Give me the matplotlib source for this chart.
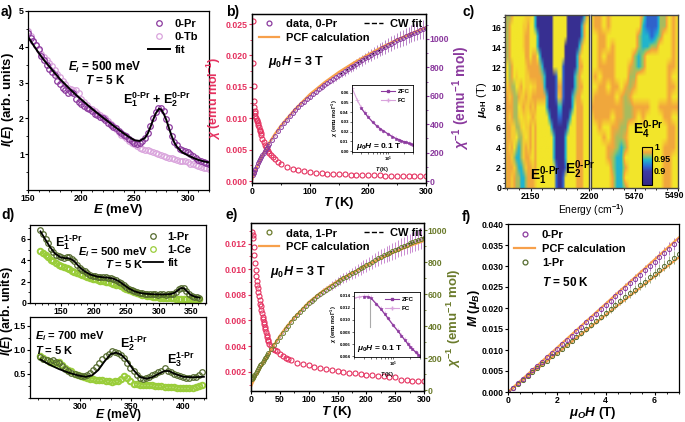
import numpy as np
import matplotlib
matplotlib.use("Agg")
import matplotlib.pyplot as plt
from matplotlib.colors import LinearSegmentedColormap, Normalize
from matplotlib.cm import ScalarMappable
from matplotlib.lines import Line2D
from matplotlib.ticker import MultipleLocator, FormatStrFormatter, NullFormatter

plt.rcParams.update({
    'font.family': 'Liberation Sans',
    'font.weight': 'bold',
    'axes.labelweight': 'bold',
    'font.size': 6.3,
    'mathtext.fontset': 'custom',
    'mathtext.rm': 'Liberation Sans:bold',
    'mathtext.it': 'Liberation Sans:italic:bold',
    'mathtext.bf': 'Liberation Sans:bold',
    'mathtext.sf': 'Liberation Sans:bold',
    'axes.linewidth': 0.9,
})

PUR = '#8b3a9e'
PUR_L = '#b782c6'
PINK = '#d9a3dc'
RED = '#e5315f'
ORANGE = '#f7a04b'
DGREEN = '#556b2f'
LIME = '#9acd3a'
EGREEN = '#6b7b2c'
TICK = 6.3

# ---------------- data: panel a ----------------
a_energy = [150, 152.5, 155, 157.5, 160, 162.5, 165, 167.5, 170, 172.5, 175, 177.5, 180, 182.5,
            185, 187.5, 190, 192.5, 195, 197.5, 200, 202.5, 205, 207.5, 210, 212.5, 215, 217.5,
            220, 222.5, 225, 227.5, 230, 232.5, 235, 237.5, 240, 242.5, 245, 247.5, 250, 252.5,
            255, 257.5, 260, 262.5, 265, 267.5, 270, 272.5, 275, 277.5, 280, 282.5, 285, 287.5,
            290, 292.5, 295, 297.5, 300, 302.5, 305, 307.5, 310, 312.5, 315, 317.5, 320]
a_pr = [4.38, 4.25, 4.15, 4.05, 3.95, 3.75, 3.62, 3.50, 3.38, 3.30,
        3.20, 3.05, 2.95, 2.85, 2.80, 2.72, 2.75, 2.70, 2.55, 2.45,
        2.40, 2.35, 2.30, 2.25, 2.20, 2.12, 2.10, 2.05, 2.00, 1.95,
        1.88, 1.82, 1.75, 1.72, 1.65, 1.60, 1.55, 1.50, 1.42, 1.38,
        1.30, 1.28, 1.30, 1.38, 1.45, 1.60, 1.78, 2.00, 2.18, 2.28,
        2.30, 2.20, 1.98, 1.75, 1.50, 1.35, 1.25, 1.15, 1.12, 1.08,
        1.05, 1.00, 0.95, 0.88, 0.85, 0.80, 0.78, 0.75, 0.72]
a_tb = [4.45, 4.30, 4.15, 4.05, 3.92, 3.80, 3.72, 3.62, 3.55, 3.45,
        3.35, 3.25, 3.15, 3.05, 2.95, 2.85, 2.82, 2.80, 2.78, 2.70,
        2.55, 2.45, 2.38, 2.30, 2.25, 2.20, 2.15, 2.10, 2.05, 2.00,
        1.92, 1.85, 1.78, 1.70, 1.62, 1.55, 1.50, 1.45, 1.38, 1.32,
        1.28, 1.22, 1.18, 1.15, 1.12, 1.12, 1.10, 1.05, 1.02, 1.00,
        0.98, 0.95, 0.93, 0.90, 0.88, 0.86, 0.85, 0.82, 0.80, 0.80,
        0.78, 0.74, 0.72, 0.70, 0.66, 0.64, 0.62, 0.61, 0.60]
a_fit_energy = [150, 155, 160, 165, 170, 175, 180, 185, 190, 195, 200, 205, 210, 215, 220, 225,
                230, 235, 240, 245, 250, 255, 260, 262.5, 265, 267.5, 270, 273, 275, 277.5, 280,
                282.5, 285, 287.5, 290, 295, 300, 305, 310, 315, 320]
a_fit = [4.28, 4.05, 3.83, 3.63, 3.45, 3.27, 3.10, 2.95, 2.80, 2.66, 2.53, 2.40, 2.27, 2.15, 2.03,
         1.92, 1.80, 1.69, 1.58, 1.48, 1.39, 1.37, 1.46, 1.58, 1.76, 1.96, 2.14, 2.27, 2.25, 2.13,
         1.95, 1.72, 1.50, 1.32, 1.20, 1.05, 0.97, 0.90, 0.84, 0.80, 0.77]

# ---------------- data: panel b ----------------
b_chi_T = [2, 2.5, 3, 3.5, 4, 4.5, 5, 6, 7, 8, 9, 10, 11, 12, 13, 14, 15, 16, 18, 20, 22, 24, 26,
           28, 30, 33, 36, 40, 45, 50, 60, 70, 80, 90, 100, 110, 120, 130, 140, 150, 160, 170,
           180, 190, 200, 210, 220, 230, 240, 250, 260, 270, 280, 290, 300]
b_chi = [0.0255, 0.0188, 0.0151, 0.0128, 0.0118, 0.0112, 0.0108, 0.0103, 0.0100, 0.0097, 0.0095,
         0.0092, 0.0089, 0.0086, 0.0082, 0.0079, 0.0076, 0.0073, 0.0067, 0.0062, 0.0058, 0.0054,
         0.0051, 0.0048, 0.0045, 0.0041, 0.0038, 0.0035, 0.0031, 0.0028, 0.0023, 0.0020, 0.0018,
         0.0016, 0.00148, 0.00137, 0.00128, 0.00121, 0.00115, 0.0011, 0.00106, 0.00102, 0.00099,
         0.00096, 0.00094, 0.00092, 0.0009, 0.00088, 0.00086, 0.00085, 0.00083, 0.00082, 0.00081,
         0.0008, 0.00079]
inv_T = [2, 3, 4, 5, 6, 8, 10, 12, 14, 16, 18, 20, 22, 24, 26, 28, 30, 35, 40, 45, 50, 55, 60, 65,
         70, 75, 80, 85, 90, 95, 100, 105, 110, 115, 120, 125, 130, 135, 140, 145, 150, 155, 160,
         165, 170, 175, 180, 185, 190, 195, 200, 205, 210, 215, 220, 225, 230, 235, 240, 245, 250,
         255, 260, 265, 270, 275, 280, 285, 290, 295, 300]
b_inv = [42, 55, 66, 78, 88, 106, 124, 140, 155, 170, 183, 196, 210, 222, 235, 248, 262,
         292, 320, 352, 383, 408, 432, 455, 478, 500, 519, 539, 558, 576, 594,
         611, 628, 645, 661, 676, 691, 705, 719, 733, 746, 760, 773, 786, 799, 812, 825, 838,
         850, 862, 875, 887, 899, 911, 922, 934, 945, 956, 967, 978, 990, 999, 1008, 1017, 1026,
         1035, 1043, 1051, 1059, 1067, 1075]
inv_err = [3, 3, 3, 3, 3, 3, 3, 3, 3, 3, 3, 3, 3, 3, 3, 3, 3,
           4, 4, 5, 5, 6, 7, 8, 9, 10, 11, 12, 13, 14, 15, 16, 18, 19, 20, 22, 23, 24, 26, 27,
           28, 30, 31, 32, 33, 35, 36, 37, 38, 40, 41, 42, 43, 45, 46, 47, 48, 50, 51, 52, 53,
           55, 56, 57, 58, 60, 61, 62, 63, 65, 66]
pcf_T = [1, 5, 10, 20, 30, 40, 50, 60, 75, 100, 125, 150, 175, 200, 225, 250, 275, 300]
b_pcf = [15, 60, 110, 200, 272, 335, 392, 440, 510, 612, 695, 768, 832, 890, 945, 995, 1040, 1082]
b_cw_T = [150, 200, 250, 300]
b_cw = [745, 873, 988, 1074]
ins_T = [2, 2.5, 3, 3.5, 4, 5, 6, 7, 8, 10, 12, 14, 16, 18, 20, 22, 25, 28, 30]
ins_zfc_T = [3, 3.5, 4, 5, 6, 7, 8, 10, 12, 14, 16, 18, 20, 22, 25, 28, 30]
b_ins_fc = [0.065, 0.053, 0.045, 0.040, 0.036, 0.030, 0.026, 0.023, 0.021, 0.0175, 0.015, 0.013,
            0.0118, 0.0107, 0.0098, 0.009, 0.008, 0.0072, 0.0068]
b_ins_zfc = [0.044, 0.0395, 0.0355, 0.0298, 0.0258, 0.0229, 0.0209, 0.0174, 0.0149, 0.0129,
             0.0117, 0.0106, 0.0097, 0.0089, 0.0079, 0.0071, 0.0067]

c_levels = {'.': 1.0, 'y': 0.99, 'o': 0.977, 'g': 0.966, 'c': 0.945, 'b': 0.915, 'D': 0.86}
c_left_energy = (2128, 2200)   # 37 columns, 2 cm-1 apart
c_right_energy = (5450, 5490)  # 21 columns, 2 cm-1 apart
c_left_rows = [  # field 17 T (top) down to 0 T
    "oggo.....yyy.cDDDDDDD......DDDDDDDco.",
    "ogo.....yyo..cDDDDDDD......DDDDDDco..",
    ".go.....yoo...cDDDDDD......DDDDDDco..",
    "ogo.....yoo...cDDDDDD.....DDDDDDco...",
    "ogo......oo.oo.cDDDDD.....DDDDDco....",
    "o.go.....yooooogcDDDD....bDDDDDcoo...",
    "o.go.y...yyooooogcDDDDb..bDDDDcgo....",
    "oyogg.yo.yy.yyooocDDDDboobDDDDcgoo...",
    "ooyoggoyyoyyoooooocDDDbyobDDDcgoo....",
    "oooogg.yoyyoyo....cDDDDccDDDDc.ooo...",
    ".oyoggy.yy.yoy.....cDDDbbDDDc..ooo...",
    ".ooyyggy.yyo.o......cDDDDDDc...ooo...",
    ".ooyy.ggy.yo.o.......cDDDDc....ooo...",
    ".oyo.gcgyoyo.o.......cDDDDc....ooo...",
    ".ooygccgyooy.o.......cDDDDc....ooo...",
    ".oooygccgyooyo........bDDDb....ooo...",
    ".ooyoggccgoooy........bDDb.....ooo...",
    ".ooyoggccgoooy........bDDb.....ooo...",
]
c_right_rows = [
    ".oo.o.......gbbbgg.o.",
    ".oo.o.......cbbbgg.o.",
    "..oo.......gccbcg..o.",
    "..oo.o.....gccgg...o.",
    "..o.oo....gcg......o.",
    "..oooo...ogcg.....oo.",
    ".o.ooo...gg.......o..",
    "..oo.oo.ogo.......oo.",
    ".ooooo.ogo........o..",
    "ooooooooggoooo..ooooo",
    ".oooo.ooggo.o....oo..",
    "..o..oogg.........oo.",
    "...o.oggo.........oo.",
    "....oogcg........ooo.",
    "....ogcc.........oo..",
    ".....gcco........oo..",
    ".....occ.........oo..",
    ".....occg........oo..",
]

# ---------------- data: panel d ----------------
d1_energy = [118, 122, 126, 130, 134, 138, 142, 146, 150, 154, 158, 162, 166, 170, 174, 178, 182,
             186, 190, 194, 198, 202, 206, 210, 214, 218, 222, 226, 230, 234, 238, 242, 246, 250,
             254, 258, 262, 266, 270, 274, 278, 282, 286, 290, 294, 298, 302, 306, 310, 314, 318,
             322, 326, 330, 334, 338, 342, 346, 350, 354, 358, 362]
d1_pr = [6.8, 6.5, 6.0, 5.6, 5.1, 4.8, 4.5, 4.4, 4.3, 4.25, 4.35, 4.3, 4.15, 3.9, 3.6, 3.3, 3.1,
         2.95, 2.8, 2.65, 2.55, 2.5, 2.45, 2.42, 2.4, 2.42, 2.38, 2.32, 2.25, 2.15, 2.0, 1.85, 1.65,
         1.5, 1.35, 1.2, 1.1, 1.02, 0.95, 0.9, 0.87, 0.85, 0.82, 0.8, 0.8, 0.78, 0.8, 0.8, 0.78,
         0.8, 0.82, 0.88, 1.05, 1.3, 1.45, 1.4, 1.15, 0.85, 0.65, 0.58, 0.52, 0.5]
d1_ce = [4.9, 4.7, 4.5, 4.3, 4.05, 3.9, 3.7, 3.6, 3.5, 3.38, 3.25, 3.15, 3.0, 2.9, 2.8, 2.7, 2.6,
         2.5, 2.4, 2.35, 2.25, 2.2, 2.15, 2.1, 2.05, 2.0, 1.95, 1.85, 1.8, 1.72, 1.65, 1.55, 1.45,
         1.35, 1.25, 1.12, 1.0, 0.92, 0.85, 0.78, 0.72, 0.68, 0.62, 0.6, 0.56, 0.52, 0.5, 0.48,
         0.46, 0.45, 0.44, 0.43, 0.42, 0.42, 0.41, 0.4, 0.4, 0.39, 0.38, 0.37, 0.36, 0.35]
d1_fit_energy = [118, 125, 132, 140, 148, 155, 160, 165, 170, 178, 186, 195, 205, 215, 222, 230,
                 238, 246, 254, 262, 270, 280, 290, 300, 310, 318, 324, 330, 334, 338, 342, 348,
                 355, 362]
d1_fit = [6.7, 6.0, 5.3, 4.65, 4.3, 4.2, 4.2, 4.1, 3.9, 3.35, 2.95, 2.65, 2.47, 2.4, 2.37, 2.27,
          2.05, 1.7, 1.35, 1.1, 0.95, 0.86, 0.82, 0.8, 0.8, 0.84, 0.96, 1.25, 1.4, 1.38, 1.15,
          0.78, 0.58, 0.5]
d2_energy = [262, 265, 268, 271, 274, 277, 280, 283, 286, 289, 292, 295, 298, 301, 304, 307, 310,
             313, 316, 319, 322, 325, 328, 331, 334, 337, 340, 343, 346, 349, 352, 355, 358, 361,
             364, 367, 370, 373, 376, 379, 382, 385, 388, 391, 394, 397, 400, 403, 406, 409, 412,
             415, 418]
d2_pr = [0.85, 0.8, 0.78, 0.76, 0.78, 0.74, 0.72, 0.66, 0.6, 0.57, 0.52, 0.5, 0.47, 0.45, 0.46,
         0.48, 0.52, 0.58, 0.64, 0.72, 0.8, 0.87, 0.92, 0.97, 0.95, 0.93, 0.9, 0.82, 0.73, 0.63,
         0.55, 0.47, 0.42, 0.4, 0.41, 0.44, 0.47, 0.5, 0.53, 0.56, 0.62, 0.56, 0.53, 0.5, 0.47,
         0.45, 0.43, 0.42, 0.41, 0.43, 0.44, 0.48, 0.53]
d2_ce = [0.88, 0.82, 0.78, 0.75, 0.72, 0.7, 0.75, 0.68, 0.62, 0.58, 0.55, 0.5, 0.48, 0.45, 0.43,
         0.42, 0.4, 0.4, 0.38, 0.37, 0.37, 0.36, 0.35, 0.34, 0.35, 0.36, 0.4, 0.45, 0.42, 0.35,
         0.3, 0.29, 0.28, 0.28, 0.27, 0.26, 0.26, 0.25, 0.25, 0.24, 0.23, 0.23, 0.22, 0.22, 0.21,
         0.21, 0.2, 0.21, 0.2, 0.2, 0.22, 0.25, 0.28]
d2_fit_energy = [262, 270, 280, 290, 300, 306, 312, 318, 324, 330, 335, 340, 346, 352, 358, 364,
                 370, 376, 382, 386, 392, 400, 410, 420]
d2_fit = [0.8, 0.7, 0.6, 0.52, 0.46, 0.44, 0.47, 0.58, 0.76, 0.91, 0.94, 0.9, 0.77, 0.58, 0.44,
          0.4, 0.43, 0.5, 0.56, 0.56, 0.5, 0.44, 0.43, 0.44]

# ---------------- data: panel e ----------------
e_chi_T = [2, 3, 4, 5, 6, 7, 8, 9, 10, 11, 12, 13, 14, 15, 16, 17, 18, 19, 20, 21, 22, 23, 24, 25,
           26, 27, 28, 29, 30, 32, 35, 38, 41, 45, 50, 55, 60, 65, 70, 80, 90, 100, 110, 120, 130,
           140, 150, 160, 170, 180, 190, 200, 210, 220, 230, 240, 250, 260, 270, 280, 290, 300]
e_chi = [0.0129, 0.0127, 0.0124, 0.0117, 0.0111, 0.0105, 0.0099, 0.0095, 0.0091, 0.0088, 0.0085,
         0.0082, 0.0079, 0.0076, 0.0073, 0.0071, 0.0068, 0.0066, 0.0063, 0.0061, 0.0059, 0.0057,
         0.0055, 0.0053, 0.0051, 0.0049, 0.0047, 0.0045, 0.0044, 0.0042, 0.0040, 0.0038, 0.0037,
         0.0036, 0.0034, 0.0032, 0.0031, 0.0030, 0.0029, 0.0027, 0.0026, 0.0025, 0.0024, 0.0023,
         0.0022, 0.00212, 0.00205, 0.00198, 0.00192, 0.00187, 0.00182, 0.00177, 0.00172, 0.00168,
         0.00164, 0.0016, 0.00156, 0.00136, 0.00133, 0.0013, 0.00128, 0.00126]
e_inv = [73, 78, 84, 90, 96, 108, 120, 132, 144, 155, 166, 177, 188, 199, 210, 221, 232,
         258, 284, 309, 333, 357, 380, 403, 426, 448, 468, 488, 507, 525, 542,
         557, 572, 587, 601, 615, 628, 641, 653, 665, 677, 688, 698, 709, 719, 729, 739, 750,
         760, 771, 781, 791, 802, 812, 823, 833, 842, 850, 858, 867, 875, 884, 892, 900, 909,
         917, 924, 931, 938, 945, 952]
e_pcf = [30, 62, 98, 162, 225, 285, 340, 390, 455, 550, 622, 682, 732, 779, 823, 864, 900, 932]
e_cw = [677, 781, 875, 952]
e_ins_fc = [0.0136, 0.0138, 0.0139, 0.0139, 0.0137, 0.0127, 0.0119, 0.0111, 0.0104, 0.0092,
            0.0083, 0.0075, 0.0068, 0.0062, 0.0057, 0.0053, 0.0048, 0.0044, 0.0041]
e_ins_zfc = [0.0138, 0.0138, 0.0136, 0.0126, 0.0118, 0.0110, 0.0103, 0.0091, 0.0082, 0.0074,
             0.0067, 0.0061, 0.0056, 0.0052, 0.0047, 0.0043, 0.0040]
e_mark_T = [3.9, 3.9]
e_mark_chi = [0.0133, 0.0088]

# ---------------- data: panel f ----------------
f_field = [0, 0.2, 0.4, 0.6, 0.8, 1.0, 1.2, 1.4, 1.6, 1.8, 2.0, 2.2, 2.4, 2.6, 2.8, 3.0, 3.2, 3.4,
           3.6, 3.8, 4.0, 4.2, 4.4, 4.6, 4.8, 5.0, 5.2, 5.4, 5.6, 5.8, 6.0, 6.2, 6.4, 6.6, 6.8, 7.0]
f_0pr = [0, 0.0010, 0.0021, 0.0031, 0.0041, 0.0052, 0.0062, 0.0072, 0.0083, 0.0093, 0.0103,
         0.0114, 0.0124, 0.0134, 0.0145, 0.0155, 0.0166, 0.0176, 0.0186, 0.0197, 0.0207, 0.0217,
         0.0228, 0.0238, 0.0248, 0.0259, 0.0269, 0.0279, 0.0290, 0.0300, 0.0310, 0.0321, 0.0331,
         0.0341, 0.0352, 0.0362]
f_1pr = [0, 0.0009, 0.0019, 0.0028, 0.0038, 0.0047, 0.0056, 0.0066, 0.0075, 0.0085, 0.0094,
         0.0103, 0.0113, 0.0122, 0.0132, 0.0141, 0.0150, 0.0160, 0.0169, 0.0179, 0.0188, 0.0197,
         0.0207, 0.0216, 0.0226, 0.0235, 0.0244, 0.0254, 0.0263, 0.0273, 0.0282, 0.0291, 0.0301,
         0.0310, 0.0320, 0.0329]
f_err = [0, 0.0001, 0.0001, 0.0002, 0.0002, 0.0002, 0.0003, 0.0003, 0.0004, 0.0004, 0.0005,
         0.0005, 0.0005, 0.0006, 0.0006, 0.0007, 0.0007, 0.0008, 0.0008, 0.0008, 0.0009, 0.0009,
         0.001, 0.001, 0.0011, 0.0011, 0.0011, 0.0012, 0.0012, 0.0013, 0.0013, 0.0014, 0.0014,
         0.0015, 0.0015, 0.0016]
f_pcf_field = [0, 7]
f_pcf_hi = [0, 0.0368]
f_pcf_lo = [0, 0.0321]

# ---------------- layout helpers ----------------
W, H = 685, 422
fig = plt.figure(figsize=(6.85, 4.22), dpi=100)


def box(x0, y0, x1, y1):
    return [x0 / W, 1 - y1 / H, (x1 - x0) / W, (y1 - y0) / H]


def ftext(x, y, s, **kw):
    kw.setdefault('ha', 'left')
    kw.setdefault('va', 'center')
    fig.text(x / W, 1 - y / H, s, **kw)


def flegend(handles, labels, x, y, size=8, **kw):
    fig.legend(handles, labels, loc='upper left', bbox_to_anchor=(x / W, 1 - y / H),
               bbox_transform=fig.transFigure, frameon=False, fontsize=size,
               borderpad=0, borderaxespad=0, **kw)


def place_label(axis, x, y):
    axis.set_label_coords(x / W, 1 - y / H, transform=fig.transFigure)


def style(ax, size=TICK):
    ax.tick_params(which='both', direction='out', labelsize=size, top=False, right=False)
    ax.tick_params(which='major', length=2.2, width=0.8, pad=0.6)
    ax.tick_params(which='minor', length=1.3, width=0.6)


def circ(color, ms=4):
    return Line2D([], [], ls='none', marker='o', ms=ms, mfc='none', mec=color, mew=0.9)


# ================= panel a =================
axa = fig.add_axes(box(28, 11, 209, 190))
axa.plot(a_energy, a_tb, 'o', ms=4, mfc='none', mec=PINK, mew=0.9)
axa.plot(a_energy, a_pr, 'o', ms=4, mfc='none', mec=PUR, mew=0.9)
axa.plot(a_fit_energy, a_fit, color='k', lw=1.4)
axa.set_xlim(150, 320)
axa.set_ylim(0, 5)
axa.set_yticks([1, 2, 3, 4, 5])
axa.yaxis.set_minor_locator(MultipleLocator(0.5))
axa.xaxis.set_major_locator(MultipleLocator(50))
axa.xaxis.set_minor_locator(MultipleLocator(10))
style(axa)
axa.set_xlabel('$E$ (meV)', fontsize=9.5)
axa.set_ylabel('$I$($E$) (arb. units)', fontsize=9.5)
place_label(axa.yaxis, 16, 100)
place_label(axa.xaxis, 118, 202)
flegend([circ(PUR), circ(PINK), Line2D([], [], color='k', lw=1.4)], ['0-Pr', '0-Tb', 'fit'],
        148, 19, size=8, handlelength=2.0, handletextpad=0.4, labelspacing=0.25)
ftext(105, 67, '$E_i$ = 500 meV', ha='center', fontsize=8.5)
ftext(105, 81, '$T$ = 5 K', ha='center', fontsize=8.5)
ftext(157, 100, r'$\mathrm{E}_1^{\mathrm{0‐Pr}}$ + $\mathrm{E}_2^{\mathrm{0‐Pr}}$',
      ha='center', fontsize=9)
ftext(1, 12, 'a)', fontsize=10)

# ================= panel b =================
axb = fig.add_axes(box(252, 14, 426, 183))
axb2 = axb.twinx()
axb.plot(b_chi_T, b_chi, 'o', ms=3.6, mfc='none', mec=RED, mew=0.8)
axb2.plot(b_cw_T, b_cw, color='k', ls='--', lw=1)
axb2.errorbar(inv_T, b_inv, yerr=inv_err, fmt='o', ms=2.8, mfc='none', mec=PUR, mew=0.7,
              ecolor=PUR_L, elinewidth=0.7, capsize=0)
axb2.plot(pcf_T, b_pcf, color=ORANGE, lw=1.6)
axb.set_xlim(0, 300)
axb.set_ylim(-0.0003, 0.0266)
axb2.set_ylim(-14, 1175)
axb.xaxis.set_major_locator(MultipleLocator(100))
axb.xaxis.set_minor_locator(MultipleLocator(50))
axb.set_yticks([0, 0.005, 0.010, 0.015, 0.020, 0.025])
axb.yaxis.set_major_formatter(FormatStrFormatter('%.3f'))
axb.yaxis.set_minor_locator(MultipleLocator(0.0025))
axb2.set_yticks([0, 200, 400, 600, 800, 1000])
axb2.yaxis.set_minor_locator(MultipleLocator(100))
style(axb)
axb2.tick_params(which='both', direction='out', labelsize=TICK, left=False, right=True,
                 colors=PUR, pad=0.6)
axb2.tick_params(which='major', length=2.2)
axb2.tick_params(which='minor', length=1.3)
axb.tick_params(axis='y', which='both', colors=RED)
axb.set_xlabel('$T$ (K)', fontsize=9.5)
place_label(axb.xaxis, 339, 195)
axb.set_ylabel(r'$\chi$ (emu mol$^{-1}$)', fontsize=9, color=RED)
place_label(axb.yaxis, 223, 98)
axb2.set_ylabel(r'$\chi^{-1}$ (emu$^{-1}$ mol)', fontsize=10, color=PUR)
place_label(axb2.yaxis, 450, 98)
flegend([circ(PUR, 3.5), Line2D([], [], color=ORANGE, lw=1.6)], ['data, 0-Pr', 'PCF calculation'],
        259, 19, size=8, handlelength=1.8, handletextpad=0.6, labelspacing=0.35)
flegend([Line2D([], [], color='k', ls='--', lw=1)], ['CW fit'], 364, 19, size=8,
        handlelength=1.7, handletextpad=0.6)
ftext(268, 62, r'$\mu_0H$ = 3 T', fontsize=9)
ftext(226, 12, 'b)', fontsize=10)

axbi = fig.add_axes(box(352, 85, 413, 152))
axbi.plot(ins_T, b_ins_fc, color=PINK, lw=0.8, marker='+', ms=2.5, mew=0.5)
axbi.plot(ins_zfc_T, b_ins_zfc, color=PUR, lw=0.8, marker='s', ms=1.6, mew=0.4)
axbi.set_xscale('log')
axbi.set_xlim(2, 30)
axbi.set_ylim(-0.001, 0.068)
axbi.set_yticks([0, 0.01, 0.02, 0.03, 0.04, 0.05, 0.06])
axbi.yaxis.set_major_formatter(FormatStrFormatter('%.2f'))
axbi.xaxis.set_minor_formatter(NullFormatter())
axbi.tick_params(which='both', labelsize=3.2, length=1.5, width=0.4, pad=0.8)
axbi.set_xlabel('$T$ (K)', fontsize=4, labelpad=0.5)
axbi.set_ylabel(r'$\chi$ (emu mol$^{-1}$)', fontsize=4, labelpad=0.5)
for s in axbi.spines.values():
    s.set_linewidth(0.6)
flegend([Line2D([], [], color=PUR, lw=0.8, marker='s', ms=1.6),
         Line2D([], [], color=PINK, lw=0.8, marker='+', ms=2.5)], ['ZFC', 'FC'],
        381, 89, size=4.5, handlelength=2.2, handletextpad=0.5, labelspacing=0.5)
ftext(356, 146, r'$\mu_0H$ = 0.1 T', fontsize=6)

# ================= panel c =================
cmap = LinearSegmentedColormap.from_list('parula_like', [
    (0.0, '#352a87'), (0.36, '#3d3aa6'), (0.5, '#2c6fd6'), (0.656, '#21b5cc'),
    (0.76, '#8cc46a'), (0.86, '#f2a73c'), (0.94, '#f5cc32'), (1.0, '#f2e52a')])
norm = Normalize(0.84, 1.0)


def level_grid(rows, n):
    return np.array([[c_levels[ch] for ch in r.ljust(n, '.')[:n]] for r in rows])


axc1 = fig.add_axes(box(505, 15, 589, 188))
axc2 = fig.add_axes(box(591, 15, 678, 188))
axc1.imshow(level_grid(c_left_rows, 37), cmap=cmap, norm=norm, aspect='auto',
            interpolation='bilinear', origin='upper',
            extent=[c_left_energy[0] - 1, c_left_energy[1] + 1, -0.5, 17.5])
axc2.imshow(level_grid(c_right_rows, 21), cmap=cmap, norm=norm, aspect='auto',
            interpolation='bilinear', origin='upper',
            extent=[c_right_energy[0] - 1, c_right_energy[1] + 1, -0.5, 17.5])
axc1.set_xlim(2128, 2200)
axc2.set_xlim(5450, 5490)
for ax in (axc1, axc2):
    ax.set_ylim(0, 17.2)
    style(ax)
    for s in ax.spines.values():
        s.set_linewidth(1.0)
        s.set_color('#444444')
axc1.set_xticks([2150, 2200])
axc1.xaxis.set_minor_locator(MultipleLocator(10))
axc1.set_yticks(range(0, 17, 2))
axc1.yaxis.set_minor_locator(MultipleLocator(0.5))
axc2.set_xticks([5470, 5490])
axc2.set_xticklabels(['5470', ''])
axc2.xaxis.set_minor_locator(MultipleLocator(5))
axc2.set_yticks([])
ftext(675, 191, '5490', ha='center', va='top', fontsize=TICK)
axc1.set_ylabel(r'$\mu_{\mathrm{oH}}$ (T)', fontsize=8, fontweight='normal')
place_label(axc1.yaxis, 489, 100)
ftext(591, 210, r'Energy (cm$^{-1}$)', ha='center', fontsize=7.5, fontweight='normal')
ftext(530, 176, r'$\mathrm{E}_1^{\mathrm{0‐Pr}}$', fontsize=10)
ftext(565, 170, r'$\mathrm{E}_2^{\mathrm{0‐Pr}}$', fontsize=10)
ftext(633, 130, r'$\mathrm{E}_4^{\mathrm{0‐Pr}}$', fontsize=10)
cax = fig.add_axes(box(642, 147, 652, 185))
cb = fig.colorbar(ScalarMappable(norm=norm, cmap=cmap), cax=cax, ticks=[0.9, 0.95, 1.0])
cb.ax.set_yticklabels(['0.9', '0.95', '1'])
cb.ax.tick_params(labelsize=TICK, length=0, pad=1.5)
cb.outline.set_linewidth(0.8)
ftext(462, 12, 'c)', fontsize=10)

# ================= panel d =================
axd1 = fig.add_axes(box(30, 225, 206, 303))
axd1.plot(d1_energy, d1_ce, 'o', ms=4, mfc='none', mec=LIME, mew=1.4)
axd1.plot(d1_energy, d1_pr, 'o', ms=4, mfc='none', mec=DGREEN, mew=0.9)
axd1.plot(d1_fit_energy, d1_fit, color='k', lw=1.3)
axd1.set_xlim(102, 372)
axd1.set_ylim(0, 7.3)
axd1.set_yticks([0, 2, 4, 6])
axd1.yaxis.set_minor_locator(MultipleLocator(1))
axd1.xaxis.set_major_locator(MultipleLocator(50))
axd1.xaxis.set_minor_locator(MultipleLocator(10))
style(axd1)
flegend([circ(DGREEN), circ(LIME), Line2D([], [], color='k', lw=1.3)], ['1-Pr', '1-Ce', 'fit'],
        143, 232, size=8, handlelength=1.8, handletextpad=0.4, labelspacing=0.25)
ftext(55, 243, r'$\mathrm{E}_1^{\mathrm{1‐Pr}}$', fontsize=9)
ftext(113, 252, '$E_i$ = 500 meV', ha='center', fontsize=8)
ftext(105, 264, '$T$ = 5 K', fontsize=8)

axd2 = fig.add_axes(box(30, 317, 206, 398))
axd2.plot(d2_energy, d2_ce, 'o', ms=4, mfc='none', mec=LIME, mew=1.4)
axd2.plot(d2_energy, d2_pr, 'o', ms=4, mfc='none', mec=DGREEN, mew=0.9)
axd2.plot(d2_fit_energy, d2_fit, color='k', lw=1.3)
axd2.set_xlim(252, 422)
axd2.set_ylim(0.0, 1.68)
axd2.set_yticks([0.5, 1.0, 1.5])
axd2.yaxis.set_major_formatter(FormatStrFormatter('%.1f'))
axd2.yaxis.set_minor_locator(MultipleLocator(0.25))
axd2.xaxis.set_major_locator(MultipleLocator(50))
axd2.xaxis.set_minor_locator(MultipleLocator(10))
style(axd2)
axd2.set_xlabel('$E$ (meV)', fontsize=8.8)
place_label(axd2.xaxis, 118, 407)
ftext(35, 336, '$E_i$ = 700 meV', fontsize=8)
ftext(35, 350, '$T$ = 5 K', fontsize=8)
ftext(120, 344, r'$\mathrm{E}_2^{\mathrm{1‐Pr}}$', fontsize=9)
ftext(167, 360, r'$\mathrm{E}_3^{\mathrm{1‐Pr}}$', fontsize=9)
ftext(7, 311, '$I$($E$) (arb. units)', ha='center', rotation=90, fontsize=9)
ftext(1, 215, 'd)', fontsize=10)

# ================= panel e =================
axe = fig.add_axes(box(251, 223, 424, 391))
axe2 = axe.twinx()
axe.plot(e_chi_T, e_chi, 'o', ms=3.6, mfc='none', mec=RED, mew=0.8)
axe2.plot(b_cw_T, e_cw, color='k', ls='--', lw=1)
axe2.errorbar(inv_T, e_inv, yerr=inv_err, fmt='o', ms=2.8, mfc='none', mec=EGREEN, mew=0.7,
              ecolor='#c98bd0', elinewidth=0.7, capsize=0)
axe2.plot(pcf_T, e_pcf, color=ORANGE, lw=1.6)
axe.set_xlim(0, 300)
axe.set_ylim(0.0005, 0.0136)
axe2.set_ylim(-5, 1044)
axe.xaxis.set_major_locator(MultipleLocator(50))
axe.xaxis.set_minor_locator(MultipleLocator(25))
axe.set_yticks([0.002, 0.004, 0.006, 0.008, 0.010, 0.012])
axe.yaxis.set_major_formatter(FormatStrFormatter('%.3f'))
axe.yaxis.set_minor_locator(MultipleLocator(0.001))
axe2.set_yticks([0, 200, 400, 600, 800, 1000])
axe2.yaxis.set_minor_locator(MultipleLocator(100))
style(axe)
axe2.tick_params(which='both', direction='out', labelsize=TICK, left=False, right=True,
                 colors=EGREEN, pad=0.6)
axe2.tick_params(which='major', length=2.2)
axe2.tick_params(which='minor', length=1.3)
axe.tick_params(axis='y', which='both', colors=RED)
axe.set_xlabel('$T$ (K)', fontsize=9.5)
place_label(axe.xaxis, 337, 404)
axe2.set_ylabel(r'$\chi^{-1}$ (emu$^{-1}$ mol)', fontsize=9.5, color=EGREEN)
place_label(axe2.yaxis, 445, 318)
flegend([circ(EGREEN, 3.5), Line2D([], [], color=ORANGE, lw=1.6)], ['data, 1-Pr', 'PCF calculation'],
        259, 228, size=8, handlelength=1.8, handletextpad=0.6, labelspacing=0.35)
flegend([Line2D([], [], color='k', ls='--', lw=1)], ['CW fit'], 364, 228, size=8,
        handlelength=1.7, handletextpad=0.6)
ftext(270, 272, r'$\mu_0H$ = 3 T', fontsize=9)
ftext(226, 215, 'e)', fontsize=10)

axei = fig.add_axes(box(354, 292, 420, 357))
axei.plot(ins_T, e_ins_fc, color=PINK, lw=0.8, marker='+', ms=2.5, mew=0.5)
axei.plot(ins_zfc_T, e_ins_zfc, color=PUR, lw=0.8, marker='s', ms=1.6, mew=0.4)
axei.plot(e_mark_T, e_mark_chi, color='#aaaaaa', lw=0.8)
axei.set_xscale('log')
axei.set_xlim(2, 30)
axei.set_ylim(0.0039, 0.0146)
axei.set_yticks([0.004, 0.006, 0.008, 0.010, 0.012, 0.014])
axei.yaxis.set_major_formatter(FormatStrFormatter('%.3f'))
axei.xaxis.set_minor_formatter(NullFormatter())
axei.tick_params(which='both', labelsize=3.2, length=1.5, width=0.4, pad=0.8)
axei.set_xlabel('$T$ (K)', fontsize=4, labelpad=0.5)
axei.set_ylabel(r'$\chi$ (emu mol$^{-1}$)', fontsize=4, labelpad=0.5)
for s in axei.spines.values():
    s.set_linewidth(0.6)
flegend([Line2D([], [], color=PUR, lw=0.8, marker='s', ms=1.6),
         Line2D([], [], color=PINK, lw=0.8, marker='+', ms=2.5)], ['ZFC', 'FC'],
        385, 297, size=4.5, handlelength=2.2, handletextpad=0.5, labelspacing=0.5)
ftext(357, 349, r'$\mu_0H$ = 0.1 T', fontsize=6)

# ================= panel f =================
axf = fig.add_axes(box(508, 224, 679, 392))
axf.errorbar(f_field, f_1pr, yerr=f_err, fmt='o', ms=3, mfc='none', mec=DGREEN, mew=0.7,
             ecolor='#9fb08a', elinewidth=0.7, capsize=0)
axf.errorbar(f_field, f_0pr, yerr=f_err, fmt='o', ms=3, mfc='none', mec=PUR, mew=0.7,
             ecolor=PUR_L, elinewidth=0.7, capsize=0)
axf.plot(f_pcf_field, f_pcf_hi, color=ORANGE, lw=1.6)
axf.plot(f_pcf_field, f_pcf_lo, color=ORANGE, lw=1.6)
axf.set_xlim(0, 7)
axf.set_ylim(0, 0.04)
axf.set_xticks([0, 2, 4, 6])
axf.xaxis.set_minor_locator(MultipleLocator(0.5))
axf.set_yticks([0, 0.005, 0.010, 0.015, 0.020, 0.025, 0.030, 0.035, 0.040])
axf.yaxis.set_major_formatter(FormatStrFormatter('%.3f'))
style(axf)
axf.set_xlabel(r'$\mu_O H$ (T)', fontsize=9.5)
place_label(axf.xaxis, 593, 405)
axf.set_ylabel(r'$M$ ($\mu_B$)', fontsize=9)
place_label(axf.yaxis, 482, 308)
flegend([circ(PUR, 3.5), Line2D([], [], color=ORANGE, lw=1.6), circ(DGREEN, 3.5)],
        ['0-Pr', 'PCF calculation', '1-Pr'], 514, 230, size=8, handlelength=1.9,
        handletextpad=0.6, labelspacing=0.35)
ftext(542, 282, '$T$ = 50 K', fontsize=8.5)
ftext(462, 217, 'f)', fontsize=10)

fig.savefig('out.png', dpi=100)
